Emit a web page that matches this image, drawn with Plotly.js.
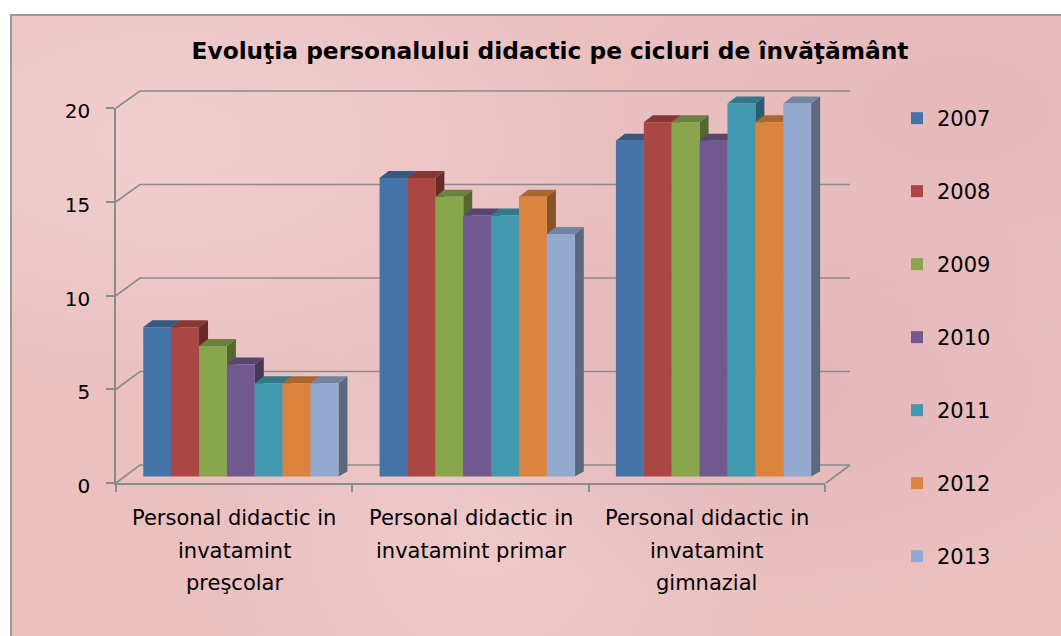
<!DOCTYPE html>
<html>
<head>
<meta charset="utf-8">
<script src="https://cdn.plot.ly/plotly-3.0.1.min.js"></script>
<style>
  html, body { margin: 0; padding: 0; background: #ffffff; }
  #frame {
    position: absolute; left: 10px; top: 14px; width: 1051px; height: 622px;
    box-sizing: border-box;
    border-left: 2px solid #9a9a9a; border-top: 2px solid #9a9a9a;
    background-color: #eac0c1;
    background-image:
      radial-gradient(ellipse at 15% 20%, rgba(255,235,235,0.35), rgba(255,235,235,0) 35%),
      radial-gradient(ellipse at 70% 60%, rgba(200,140,145,0.18), rgba(200,140,145,0) 40%),
      radial-gradient(ellipse at 45% 85%, rgba(255,230,230,0.25), rgba(255,230,230,0) 35%),
      radial-gradient(ellipse at 90% 15%, rgba(205,150,152,0.15), rgba(205,150,152,0) 30%);
  }
  #chart { position: absolute; left: 0; top: 0; width: 1061px; height: 636px; }
</style>
</head>
<body>
<div id="frame"></div>
<div id="chart"></div>
<script>
// ---------------- data ----------------
const chartTitle = "Evoluţia personalului didactic pe cicluri de învăţământ";
const categoryLines = [
  ["Personal didactic in", "invatamint", "preşcolar"],
  ["Personal didactic in", "invatamint primar"],
  ["Personal didactic in", "invatamint", "gimnazial"]
];
const categories = categoryLines.map(l => l.join(" "));
const years = ["2007", "2008", "2009", "2010", "2011", "2012", "2013"];
const v2007 = [8, 16, 18];
const v2008 = [8, 16, 19];
const v2009 = [7, 15, 19];
const v2010 = [6, 14, 18];
const v2011 = [5, 14, 20];
const v2012 = [5, 15, 19];
const v2013 = [5, 13, 20];
const seriesValues = [v2007, v2008, v2009, v2010, v2011, v2012, v2013];
const yTicks = [0, 5, 10, 15, 20];
const colors = ["#4572A7", "#AA4643", "#89A54E", "#71588F", "#4198AF", "#DB843D", "#93A9CF"];

// ---------------- geometry (layout only) ----------------
const W = 1061, H = 636;
const catPx = 709 / 3;          // pixels per category on front floor
const barW = 0.118;             // bar width in category units
const groupOff = -0.3847;       // offset of first bar from category centre
const barZero = 476.5, unitPx = 18.65;  // bar axis: pixel of 0 and px per unit
const dX = 9, dY = 7, dYb = 5;  // 3D depth of bars
const gridColor = "#8b8b8b";
const FONT = "'DejaVu Sans', 'Open Sans', sans-serif";

function shade(hex, f) {
  const n = parseInt(hex.slice(1), 16);
  const r = Math.round(((n >> 16) & 255) * f), g = Math.round(((n >> 8) & 255) * f), b = Math.round((n & 255) * f);
  return "rgb(" + r + "," + g + "," + b + ")";
}

const xIdx = categories.map((c, j) => j);

// bar traces (front faces)
const traces = years.map((yr, i) => ({
  type: "bar",
  name: yr,
  x: xIdx,
  y: seriesValues[i],
  xaxis: "x", yaxis: "y",
  width: barW,
  offset: groupOff + i * barW,
  marker: { color: colors[i], line: { width: 0 } },
  legendgroup: "g" + i,
  customdata: categories,
  textposition: "none",
  hovertemplate: "%{customdata}<br>" + yr + ": %{y}<extra></extra>"
}));
// helper trace to materialise the front axes
traces.push({ type: "scatter", x: [], y: [], xaxis: "x2", yaxis: "y2", showlegend: false, hoverinfo: "skip" });

// ---------------- shapes ----------------
const shapes = [];
// back wall gridlines + left side diagonals
yTicks.forEach(v => {
  shapes.push({
    type: "path", xref: "x", yref: "y", xsizemode: "pixel", ysizemode: "pixel",
    xanchor: -0.5, yanchor: v,
    path: "M0," + (-6.5 + 0.1 * v) + " L24," + (11.5 + 0.05 * v) + " L734," + (11.5 + 0.05 * v),
    line: { color: gridColor, width: 1.6 }, layer: "below"
  });
});
// floor right diagonal
shapes.push({
  type: "path", xref: "x", yref: "y", xsizemode: "pixel", ysizemode: "pixel",
  xanchor: 2.5, yanchor: 0, path: "M1,-6.5 L25,11.5",
  line: { color: gridColor, width: 1.6 }, layer: "below"
});
// 3D side faces then top faces
const bwPx = barW * catPx;
const sides = [], tops = [];
years.forEach((yr, i) => {
  seriesValues[i].forEach((val, j) => {
    const xr = j + groupOff + (i + 1) * barW;
    sides.push({
      type: "path", xref: "x", yref: "y", xsizemode: "pixel", ysizemode: "pixel",
      xanchor: xr, yanchor: val,
      path: "M0,0 L" + dX + "," + dY + " L" + dX + "," + (-val * unitPx + dYb) + " L0," + (-val * unitPx) + " Z",
      fillcolor: shade(colors[i], 0.62), line: { width: 0 }, layer: "below"
    });
    tops.push({
      type: "path", xref: "x", yref: "y", xsizemode: "pixel", ysizemode: "pixel",
      xanchor: xr, yanchor: val,
      path: "M0,0 L" + (-bwPx) + ",0 L" + (-bwPx + dX) + "," + dY + " L" + dX + "," + dY + " Z",
      fillcolor: shade(colors[i], 0.78), line: { width: 0 }, layer: "below"
    });
  });
});
shapes.push(...sides, ...tops);

// ---------------- category labels ----------------
const annotations = [];
const lineShift = [-35, -68, -100];
categoryLines.forEach((lines, j) => {
  lines.forEach((t, k) => {
    annotations.push({
      xref: "x2", yref: "y2", x: j, y: 0, yshift: lineShift[k],
      text: t, showarrow: false, xanchor: "center", yanchor: "middle",
      font: { family: FONT, size: 21, color: "#000" }
    });
  });
});

// ---------------- layout ----------------
const xLeftPx = 116 - 0.1 * catPx, xRightPx = 825 + 0.15 * catPx;
const yBotPx = barZero + 0.7 * unitPx, yTopPx = barZero - 21.5 * unitPx;

const layout = {
  width: W, height: H,
  margin: { l: 0, r: 0, t: 0, b: 0, autoexpand: false },
  paper_bgcolor: "rgba(0,0,0,0)", plot_bgcolor: "rgba(0,0,0,0)",
  barmode: "overlay",
  font: { family: FONT, color: "#000" },
  title: {
    text: chartTitle, x: 550 / W, xanchor: "center", y: 1 - 51 / H, yanchor: "middle",
    font: { family: FONT, size: 23.3, weight: "bold", color: "#000" }
  },
  xaxis: {
    domain: [xLeftPx / W, xRightPx / W], range: [-0.6, 2.65], type: "linear",
    visible: false, fixedrange: true
  },
  yaxis: {
    domain: [1 - yBotPx / H, 1 - yTopPx / H], range: [-0.7, 21.5], type: "linear",
    visible: false, fixedrange: true
  },
  xaxis2: {
    domain: [116 / W, 825 / W], range: [-0.5, 2.5], type: "linear", anchor: "y2",
    tickvals: [-0.5, 0.5, 1.5, 2.5], ticks: "outside", ticklen: 7, tickwidth: 1.6, tickcolor: gridColor,
    showticklabels: false, showline: true, linecolor: gridColor, linewidth: 1.6,
    showgrid: false, zeroline: false, fixedrange: true
  },
  yaxis2: {
    domain: [1 - 483 / H, 1 - 108 / H], range: [0, 20], type: "linear", anchor: "x2",
    tickvals: yTicks, ticktext: yTicks.map(String),
    ticks: "outside", ticklen: 8, tickwidth: 1.6, tickcolor: gridColor,
    showline: true, linecolor: gridColor, linewidth: 1.6,
    showgrid: false, zeroline: false, fixedrange: true,
    ticklabelstandoff: 12, ticklabelshift: 3,
    tickfont: { family: FONT, size: 20, color: "#000" }
  },
  showlegend: true,
  legend: {
    xref: "container", yref: "container", x: 897 / W, y: 1 - 98 / H, xanchor: "left", yanchor: "top",
    bgcolor: "rgba(0,0,0,0)", borderwidth: 0, tracegroupgap: 42.7, traceorder: "grouped",
    maxheight: 560,
    font: { family: FONT, size: 21, color: "#000" }
  },
  shapes: shapes,
  annotations: annotations
};

Plotly.newPlot("chart", traces, layout, { displayModeBar: false });
</script>
</body>
</html>
